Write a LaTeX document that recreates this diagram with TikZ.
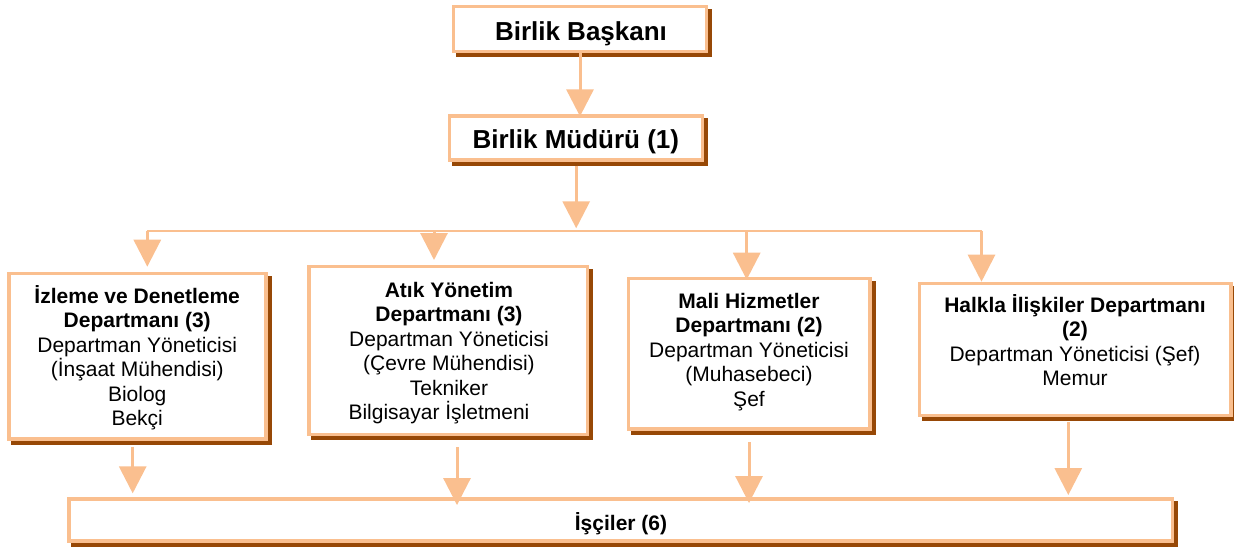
\documentclass[tikz,border=0pt]{standalone}
\usepackage{fontspec}
\setmainfont{Liberation Sans}
\usetikzlibrary{arrows.meta}

\definecolor{peach}{RGB}{250,191,143}
\definecolor{shadowbrown}{RGB}{151,72,6}

\tikzset{
  orgbox/.style={draw=peach, line width=3.3pt, fill=white, inner sep=0pt,
    preaction={draw=shadowbrown, fill=shadowbrown, line width=3.3pt,
      transform canvas={xshift=4pt, yshift=-4pt}}},
  headtext/.style={anchor=base, inner sep=0pt, font=\fontsize{26}{30}\selectfont\bfseries},
  boxtext/.style={anchor=base, align=center, inner sep=0pt, font=\fontsize{21}{24.5}\selectfont},
  conn/.style={draw=peach, line width=3pt, -{Triangle[width=27pt,length=27pt]}},
  busline/.style={draw=peach, line width=2.5pt},
}

\begin{document}
\begin{tikzpicture}[x=1pt,y=1pt,yscale=-1,xscale=1]
\useasboundingbox (0,0) rectangle (1234,547);

%Shape: Rectangle
\node[orgbox, minimum width=252.7pt, minimum height=45pt] (baskan) at (580,29.2) {};
%Shape: Rectangle
\node[orgbox, minimum width=253pt, minimum height=44pt] (mudur) at (576.2,138) {};
%Shape: Rectangle
\node[orgbox, minimum width=257pt, minimum height=165.5pt] (izleme) at (137.5,356.1) {};
%Shape: Rectangle
\node[orgbox, minimum width=278.4pt, minimum height=167.7pt] (atik) at (448.2,350.5) {};
%Shape: Rectangle
\node[orgbox, minimum width=241.7pt, minimum height=150.7pt] (mali) at (749.2,353.7) {};
%Shape: Rectangle
\node[orgbox, minimum width=311.7pt, minimum height=132.3pt] (halkla) at (1075.2,349.5) {};
%Shape: Rectangle
\node[orgbox, minimum width=1103.4pt, minimum height=42pt] (isciler) at (620.7,520) {};

% Text Node (placed at the baseline of the last line)
\node[headtext] (baskantxt) at (581,40.7) {Birlik Başkanı};
% Text Node
\node[headtext] (mudurtxt) at (575.8,148.3) {Birlik Müdürü (1)};
% Text Node
\node[boxtext] (izlemetxt) at (137.2,425.5) {\textbf{İzleme ve Denetleme}\\\textbf{Departmanı (3)}\\Departman Yöneticisi\\(İnşaat Mühendisi)\\Biolog\\Bekçi};
% Text Node
\node[boxtext] (atiktxt) at (449,419.5) {\textbf{Atık Yönetim}\\\textbf{Departmanı (3)}\\Departman Yöneticisi\\(Çevre Mühendisi)\\Tekniker\\Bilgisayar İşletmeni\hspace*{20pt}};
% Text Node
\node[boxtext] (malitxt) at (749,406) {\textbf{Mali Hizmetler}\\\textbf{Departmanı (2)}\\Departman Yöneticisi\\(Muhasebeci)\\Şef};
% Text Node
\node[boxtext] (halklatxt) at (1075,385.5) {\textbf{Halkla İlişkiler Departmanı}\\\textbf{(2)}\\Departman Yöneticisi (Şef)\\Memur};
% Text Node
\node[boxtext, font=\fontsize{21}{24.5}\selectfont\bfseries] (iscilertxt) at (621,530) {İşçiler (6)};

\coordinate (bus1) at (147.3,231);
\coordinate (bus2) at (434,231);
\coordinate (bus3) at (746.7,231);
\coordinate (bus4) at (981.5,231);
\coordinate (down1) at (132.7,446.7);
\coordinate (down2) at (457,447);
\coordinate (down3) at (749,442);
\coordinate (down4) at (1068.3,422);

%Straight Lines
\draw[conn, shorten >=-2pt] (baskan.south) -- (baskan.south |- mudur.north);
%Straight Lines
\draw[conn, shorten <=4pt, shorten >=2.7pt] (mudur.south) -- (mudur.south |- bus1);
%Straight Lines
\draw[busline] (bus1) -- (bus4);

%Straight Lines
\draw[conn, shorten >=5pt] (bus1) -- (bus1 |- izleme.north);
\draw[conn, shorten >=5pt] (bus2) -- (bus2 |- atik.north);
\draw[conn, shorten >=-3pt] (bus3) -- (bus3 |- mali.north);
\draw[conn] (bus4) -- (bus4 |- halkla.north);

%Straight Lines
\draw[conn, shorten >=4pt] (down1) -- (down1 |- isciler.north);
\draw[conn, shorten >=-7.7pt] (down2) -- (down2 |- isciler.north);
\draw[conn, shorten >=-5.7pt] (down3) -- (down3 |- isciler.north);
\draw[conn, shorten >=2.3pt] (down4) -- (down4 |- isciler.north);

\end{tikzpicture}
\end{document}
